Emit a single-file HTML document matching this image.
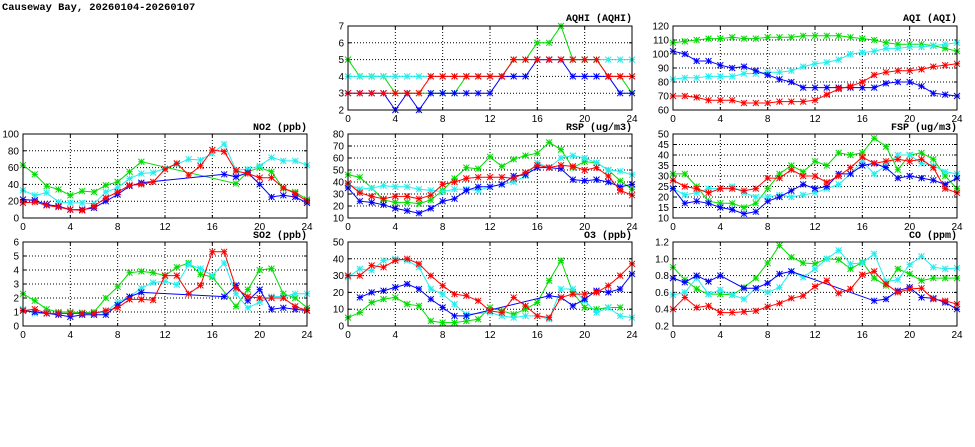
<!DOCTYPE html>
<html><head><meta charset="utf-8"><style>
html,body{margin:0;padding:0;background:#fff;width:975px;height:447px;overflow:hidden}
svg text{font-family:"Liberation Sans",sans-serif;font-size:10px;fill:#000}
svg .pt{font-family:"Liberation Mono",monospace;font-size:10px;font-weight:bold}
</style></head><body>
<svg id="s" width="975" height="447" xmlns="http://www.w3.org/2000/svg">
<rect width="975" height="447" fill="#fff"/>
<text x="2" y="10" style="font-family:'Liberation Mono',monospace;font-size:10.4px;font-weight:bold">Causeway Bay, 20260104-20260107</text>
<g id="plots"></g>
<g text-anchor="end">
<text class="pt" x="632" y="21">AQHI (AQHI)</text>
<text class="pt" x="957" y="21">AQI (AQI)</text>
<text class="pt" x="307" y="130">NO2 (ppb)</text>
<text class="pt" x="632" y="130">RSP (ug/m3)</text>
<text class="pt" x="957" y="130">FSP (ug/m3)</text>
<text class="pt" x="307" y="238">SO2 (ppb)</text>
<text class="pt" x="632" y="238">O3 (ppb)</text>
<text class="pt" x="957" y="238">CO (ppm)</text>
</g>
<g text-anchor="end">
<text x="344" y="113.5">2</text><text x="344" y="96.7">3</text><text x="344" y="79.9">4</text><text x="344" y="63.1">5</text><text x="344" y="46.3">6</text><text x="344" y="29.5">7</text>
<text x="669" y="113.5">60</text><text x="669" y="99.5">70</text><text x="669" y="85.5">80</text><text x="669" y="71.5">90</text><text x="669" y="57.5">100</text><text x="669" y="43.5">110</text><text x="669" y="29.5">120</text>
<text x="19" y="221.5">0</text><text x="19" y="204.7">20</text><text x="19" y="187.9">40</text><text x="19" y="171.1">60</text><text x="19" y="154.3">80</text><text x="19" y="137.5">100</text>
<text x="344" y="221.5">10</text><text x="344" y="209.5">20</text><text x="344" y="197.5">30</text><text x="344" y="185.5">40</text><text x="344" y="173.5">50</text><text x="344" y="161.5">60</text><text x="344" y="149.5">70</text><text x="344" y="137.5">80</text>
<text x="669" y="221.5">10</text><text x="669" y="211">15</text><text x="669" y="200.5">20</text><text x="669" y="190">25</text><text x="669" y="179.5">30</text><text x="669" y="169">35</text><text x="669" y="158.5">40</text><text x="669" y="148">45</text><text x="669" y="137.5">50</text>
<text x="19" y="329.5">0</text><text x="19" y="315.5">1</text><text x="19" y="301.5">2</text><text x="19" y="287.5">3</text><text x="19" y="273.5">4</text><text x="19" y="259.5">5</text><text x="19" y="245.5">6</text>
<text x="344" y="329.5">0</text><text x="344" y="312.7">10</text><text x="344" y="295.9">20</text><text x="344" y="279.1">30</text><text x="344" y="262.3">40</text><text x="344" y="245.5">50</text>
<text x="669" y="329.5">0.2</text><text x="669" y="312.7">0.4</text><text x="669" y="295.9">0.6</text><text x="669" y="279.1">0.8</text><text x="669" y="262.3">1.0</text><text x="669" y="245.5">1.2</text>
</g>
<g text-anchor="middle">
<text x="348" y="122">0</text><text x="395.3" y="122">4</text><text x="442.7" y="122">8</text><text x="490" y="122">12</text><text x="537.3" y="122">16</text><text x="584.7" y="122">20</text><text x="632" y="122">24</text>
<text x="673" y="122">0</text><text x="720.3" y="122">4</text><text x="767.7" y="122">8</text><text x="815" y="122">12</text><text x="862.3" y="122">16</text><text x="909.7" y="122">20</text><text x="957" y="122">24</text>
<text x="23" y="230">0</text><text x="70.3" y="230">4</text><text x="117.7" y="230">8</text><text x="165" y="230">12</text><text x="212.3" y="230">16</text><text x="259.7" y="230">20</text><text x="307" y="230">24</text>
<text x="348" y="230">0</text><text x="395.3" y="230">4</text><text x="442.7" y="230">8</text><text x="490" y="230">12</text><text x="537.3" y="230">16</text><text x="584.7" y="230">20</text><text x="632" y="230">24</text>
<text x="673" y="230">0</text><text x="720.3" y="230">4</text><text x="767.7" y="230">8</text><text x="815" y="230">12</text><text x="862.3" y="230">16</text><text x="909.7" y="230">20</text><text x="957" y="230">24</text>
<text x="23" y="338">0</text><text x="70.3" y="338">4</text><text x="117.7" y="338">8</text><text x="165" y="338">12</text><text x="212.3" y="338">16</text><text x="259.7" y="338">20</text><text x="307" y="338">24</text>
<text x="348" y="338">0</text><text x="395.3" y="338">4</text><text x="442.7" y="338">8</text><text x="490" y="338">12</text><text x="537.3" y="338">16</text><text x="584.7" y="338">20</text><text x="632" y="338">24</text>
<text x="673" y="338">0</text><text x="720.3" y="338">4</text><text x="767.7" y="338">8</text><text x="815" y="338">12</text><text x="862.3" y="338">16</text><text x="909.7" y="338">20</text><text x="957" y="338">24</text>
</g>
</svg>
<script>
var N=null;
var P=[
{x:348,t:26,min:2,max:7,step:1,d:[
[5,4,4,4,3,3,3,3,3,3,4,4,4,4,5,5,6,6,7,5,5,5,4,4,3],
[4,4,4,4,4,4,4,4,4,4,4,4,4,4,5,5,5,5,5,5,5,5,5,5,5],
[3,3,3,3,2,3,2,3,3,3,3,3,3,4,4,4,5,5,5,4,4,4,4,3,3],
[3,3,3,3,3,3,3,4,4,4,4,4,4,4,5,5,5,5,5,5,5,5,4,4,4]]},
{x:673,t:26,min:60,max:120,step:10,d:[
[108,109,110,111,111,112,111,111,112,112,112,113,113,113,113,112,111,110,108,107,107,107,106,104,102],
[82,83,83,84,84,84,86,86,87,87,88,91,93,94,96,100,101,102,104,104,105,105,106,107,108],
[102,100,95,95,92,90,91,88,85,82,80,76,76,76,76,76,76,76,79,80,80,77,72,71,70],
[70,70,69,67,67,67,65,65,65,66,66,66,67,71,75,77,80,85,87,88,88,89,91,92,93]]},
{x:23,t:134,min:0,max:100,step:20,d:[
[63,52,38,34,27,32,31,39,43,55,67,N,N,N,N,N,N,N,41,55,60,55,35,31,22],
[33,27,30,19,18,18,17,31,36,47,53,54,59,64,70,69,77,88,57,58,62,72,68,68,63],
[22,21,16,14,10,10,12,20,28,38,42,N,N,N,N,N,N,52,49,54,40,25,27,25,18],
[18,19,15,13,10,9,14,24,31,39,40,43,58,65,51,62,81,79,56,53,48,48,36,29,20]]},
{x:348,t:134,min:10,max:80,step:10,d:[
[46,44,35,25,23,23,22,25,33,43,52,51,61,53,59,62,64,73,67,52,57,56,50,41,34],
[38,34,35,37,36,36,34,33,32,34,34,33,36,38,40,45,56,52,60,62,60,56,50,49,46],
[35,24,23,21,18,16,14,18,24,26,33,36,36,38,45,46,52,52,51,42,41,42,40,36,38],
[39,31,28,26,28,28,26,29,38,40,43,44,44,44,43,48,54,52,54,53,50,52,45,33,29]]},
{x:673,t:134,min:10,max:50,step:5,d:[
[31,31,25,18,17,17,15,17,24,31,35,32,37,35,41,40,41,48,44,33,40,41,38,30,24],
[24,21,22,24,24,25,22,20,20,21,20,21,22,24,26,31,37,31,35,40,40,36,35,32,31],
[24,17,18,17,15,14,12,13,18,20,23,26,24,25,31,31,35,36,34,29,30,29,28,26,29],
[28,25,24,22,24,24,23,24,29,29,33,30,30,27,30,34,39,36,37,38,37,38,34,24,22]]},
{x:23,t:242,min:0,max:6,step:1,d:[
[2.3,1.8,1.2,1.0,1.0,0.95,1.0,2.0,2.8,3.8,3.9,3.8,3.6,4.2,4.5,3.7,3.5,N,1.4,2.6,4.0,4.1,2.3,2.0,1.3],
[1.2,0.9,0.9,0.9,0.9,0.9,0.9,1.0,1.7,2.1,2.7,3.1,3.2,2.95,4.4,4.1,3.6,4.5,2.3,1.3,1.7,2.1,2.1,2.3,2.3],
[1.1,1.0,0.9,0.8,0.65,0.8,0.8,0.8,1.5,2.1,2.4,N,N,N,N,N,N,2.1,2.9,1.8,2.6,1.2,1.3,1.2,1.1],
[1.1,1.2,0.9,0.9,0.9,0.9,0.9,1.1,1.3,1.9,1.9,1.85,3.6,3.6,2.3,2.9,5.3,5.3,2.7,2.1,2.0,2.0,2.0,1.4,1.1]]},
{x:348,t:242,min:0,max:50,step:10,d:[
[5,8,14,16,17,13,12,3,2,2,3,4,11,9,7,10,14,27,39,20,11,10,11,11,N],
[29,34,33,39,40,39,35,22,19,13,7,N,8,6,5,6,6,4,22,22,15,8,11,6,5],
[N,17,20,21,23,25,22,16,11,6,6,N,N,N,N,N,N,18,17,12,16,21,20,22,31],
[30,30,36,35,39,40,37,30,24,19,18,15,9,8,17,12,6,5,17,19,19,20,24,30,37]]},
{x:673,t:242,min:0.2,max:1.2,step:0.2,d:[
[0.9,0.75,0.64,0.58,0.58,0.57,0.66,0.77,0.95,1.16,1.02,0.95,0.94,1.0,0.99,0.88,0.96,0.77,0.68,0.88,0.82,0.74,0.77,0.77,0.77],
[0.57,0.6,0.77,0.58,0.63,0.57,0.52,0.65,0.6,0.66,0.85,0.78,0.88,1.0,1.1,0.94,0.95,1.06,0.73,0.75,0.93,1.03,0.9,0.88,0.89],
[0.77,0.72,0.8,0.73,0.8,N,0.65,0.65,0.71,0.82,0.85,N,N,N,N,N,N,0.5,0.52,0.62,0.66,0.54,0.53,0.48,0.4],
[0.4,0.54,0.42,0.44,0.36,0.36,0.37,0.38,0.43,0.47,0.53,0.56,0.67,0.74,0.59,0.64,0.81,0.85,0.7,0.6,0.64,0.65,0.52,0.5,0.46]]}
];
var C=["#00dd00","#22eeee","#0000ff","#ff0000"];
var W=284,H=84,o="";
P.forEach(function(p){
 var b=p.t+H;
 for(var h=4;h<24;h+=4){var x=p.x+h*W/24;o+='<line x1="'+x+'" y1="'+p.t+'" x2="'+x+'" y2="'+b+'" stroke="#000" stroke-width="1" stroke-dasharray="1,2"/>';}
 var n=Math.round((p.max-p.min)/p.step);
 for(var i=1;i<n;i++){var y=b-i*H/n;o+='<line x1="'+p.x+'" y1="'+y+'" x2="'+(p.x+W)+'" y2="'+y+'" stroke="#000" stroke-width="1" stroke-dasharray="1,2"/>';}
 for(var h=0;h<=24;h+=4){var x=p.x+h*W/24;o+='<line x1="'+x+'" y1="'+b+'" x2="'+x+'" y2="'+(b-3)+'" stroke="#000"/><line x1="'+x+'" y1="'+p.t+'" x2="'+x+'" y2="'+(p.t+3)+'" stroke="#000"/>';}
 for(var i=0;i<=n;i++){var y=b-i*H/n;o+='<line x1="'+p.x+'" y1="'+y+'" x2="'+(p.x+3)+'" y2="'+y+'" stroke="#000"/><line x1="'+(p.x+W-3)+'" y1="'+y+'" x2="'+(p.x+W)+'" y2="'+y+'" stroke="#000"/>';}
 p.d.forEach(function(s,k){
  var pts=[];
  s.forEach(function(v,h){if(v!==null)pts.push([p.x+h*W/24,b-(v-p.min)/(p.max-p.min)*H]);});
  o+='<polyline fill="none" stroke="'+C[k]+'" stroke-width="1" points="'+pts.map(function(q){return q[0].toFixed(1)+','+q[1].toFixed(1)}).join(' ')+'"/>';
  var r=3;
  pts.forEach(function(q){var x=q[0],y=q[1];
   o+='<path d="M'+(x-r)+' '+y+'H'+(x+r)+'M'+x+' '+(y-r)+'V'+(y+r)+'M'+(x-r)+' '+(y-r)+'L'+(x+r)+' '+(y+r)+'M'+(x-r)+' '+(y+r)+'L'+(x+r)+' '+(y-r)+'" stroke="'+C[k]+'" stroke-width="1" fill="none"/>';});
 });
 o+='<rect x="'+p.x+'" y="'+p.t+'" width="'+W+'" height="'+H+'" fill="none" stroke="#000" stroke-width="1"/>';
});
document.getElementById("plots").innerHTML=o;
</script>
</body></html>
